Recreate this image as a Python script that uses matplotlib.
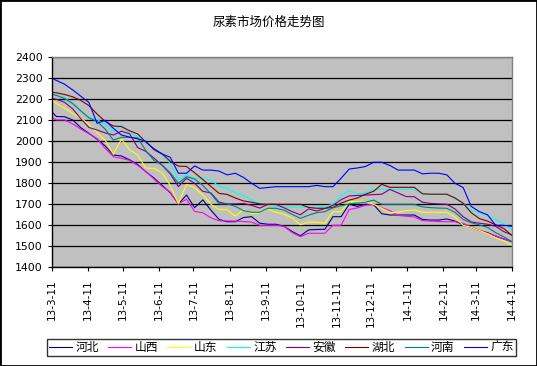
import datetime as dt
import matplotlib
matplotlib.use("Agg")
import matplotlib.pyplot as plt
import matplotlib.dates as mdates
from matplotlib.patches import Rectangle
from matplotlib.ticker import FuncFormatter, MultipleLocator
import pandas as pd

plt.rcParams['font.family'] = ['DejaVu Sans', 'Noto Sans CJK SC']

# first quote on 2013-03-11, then every Friday up to 2014-04-11
dates = [pd.Timestamp('2013-03-11')] + list(pd.date_range('2013-03-15', '2014-04-11', freq='7D'))

hebei = [2141, 2118, 2117, 2102, 2065, 2038, 2010, 1978, 1935, 1930, 1912, 1889, 1855, 1825, 1790, 1755,
         1702, 1744, 1684, 1721, 1672, 1628, 1617, 1617, 1637, 1641, 1610, 1605, 1605, 1595, 1570, 1550,
         1578, 1580, 1581, 1641, 1641, 1700, 1690, 1700, 1698, 1655, 1649, 1649, 1649, 1649, 1628, 1625,
         1625, 1630, 1620, 1603, 1590, 1575, 1565, 1548, 1535, 1522]
shanxi = [2114, 2102, 2102, 2083, 2058, 2036, 2013, 1966, 1927, 1919, 1909, 1885, 1856, 1820, 1785, 1758,
          1702, 1724, 1666, 1660, 1636, 1621, 1621, 1620, 1618, 1615, 1600, 1600, 1600, 1595, 1565, 1546,
          1562, 1562, 1562, 1600, 1600, 1675, 1683, 1695, 1700, 1684, 1670, 1647, 1643, 1640, 1622, 1620,
          1618, 1617, 1617, 1610, 1592, 1576, 1562, 1550, 1535, 1522]
shandong = [2200, 2180, 2158, 2133, 2112, 2080, 2042, 2005, 1938, 2010, 1960, 1935, 1872, 1871, 1850, 1790,
            1702, 1795, 1778, 1745, 1700, 1676, 1674, 1643, 1675, 1655, 1660, 1678, 1662, 1652, 1635, 1602,
            1615, 1615, 1610, 1665, 1665, 1713, 1712, 1712, 1700, 1681, 1660, 1662, 1670, 1673, 1662, 1662,
            1662, 1662, 1640, 1600, 1590, 1575, 1560, 1540, 1525, 1506]
jiangsu = [2224, 2218, 2208, 2180, 2145, 2112, 2104, 2080, 2045, 2078, 2040, 2020, 1995, 1965, 1935, 1895,
           1815, 1840, 1824, 1826, 1815, 1786, 1775, 1755, 1740, 1722, 1705, 1700, 1690, 1686, 1686, 1686,
           1686, 1686, 1690, 1700, 1740, 1765, 1750, 1755, 1771, 1771, 1771, 1771, 1771, 1771, 1750, 1748,
           1748, 1748, 1728, 1705, 1672, 1660, 1645, 1628, 1608, 1578]
anhui = [2205, 2200, 2186, 2155, 2108, 2066, 2054, 2040, 2030, 2048, 2036, 1970, 1952, 1920, 1886, 1845,
         1784, 1824, 1800, 1762, 1754, 1710, 1702, 1702, 1704, 1695, 1682, 1700, 1700, 1683, 1665, 1650,
         1678, 1668, 1680, 1695, 1722, 1740, 1742, 1744, 1746, 1748, 1771, 1754, 1737, 1736, 1710, 1704,
         1702, 1700, 1678, 1641, 1616, 1610, 1605, 1595, 1570, 1554]
hubei = [2233, 2231, 2223, 2212, 2195, 2170, 2130, 2095, 2073, 2070, 2050, 2035, 1996, 1965, 1940, 1905,
         1882, 1880, 1850, 1818, 1785, 1752, 1747, 1730, 1716, 1710, 1702, 1700, 1700, 1700, 1700, 1700,
         1685, 1681, 1681, 1685, 1706, 1720, 1730, 1748, 1762, 1795, 1781, 1781, 1781, 1781, 1750, 1748,
         1748, 1748, 1730, 1705, 1660, 1632, 1620, 1602, 1585, 1551]
henan = [2224, 2219, 2204, 2180, 2145, 2112, 2095, 2058, 2006, 2019, 2019, 2016, 1956, 1909, 1887, 1850,
         1800, 1832, 1820, 1790, 1750, 1702, 1702, 1690, 1670, 1662, 1662, 1681, 1681, 1672, 1652, 1633,
         1648, 1660, 1665, 1683, 1693, 1702, 1706, 1710, 1720, 1700, 1700, 1700, 1700, 1700, 1688, 1684,
         1682, 1681, 1662, 1628, 1612, 1602, 1590, 1565, 1545, 1522]
guangdong = [2300, 2290, 2272, 2245, 2215, 2185, 2086, 2100, 2062, 2030, 2020, 2012, 2000, 1960, 1940, 1924,
             1848, 1848, 1883, 1863, 1863, 1858, 1840, 1848, 1828, 1800, 1776, 1780, 1784, 1784, 1784, 1784,
             1784, 1790, 1784, 1784, 1824, 1868, 1873, 1880, 1900, 1900, 1885, 1863, 1863, 1863, 1845, 1848,
             1848, 1840, 1800, 1780, 1690, 1665, 1650, 1600, 1600, 1595]

names = ['河北', '山西', '山东', '江苏', '安徽', '湖北', '河南', '广东']
colors = ['#000080', '#FF00FF', '#FFFF00', '#00FFFF', '#800080', '#800000', '#008080', '#0000FF']
series = [hebei, shanxi, shandong, jiangsu, anhui, hubei, henan, guangdong]

fig = plt.figure(figsize=(5.37, 3.66), dpi=100)
ax = fig.add_axes([0.0963, 0.2697, 0.857, 0.5737])
ax.set_facecolor('#C0C0C0')

for name, c, vals in zip(names, colors, series):
    ax.plot(dates, vals, color=c, lw=0.8, label=name)

ax.set_xlim(dt.datetime(2013, 3, 11), dt.datetime(2014, 4, 11))
ax.set_ylim(1400, 2400)
ax.yaxis.set_major_locator(MultipleLocator(100))
ax.grid(axis='y', color='black', lw=0.9)
ax.set_axisbelow(True)

ax.xaxis.set_major_locator(mdates.MonthLocator(bymonthday=11))
ax.xaxis.set_major_formatter(FuncFormatter(
    lambda v, p: (lambda d: f"{d.year % 100}-{d.month}-{d.day}")(mdates.num2date(v))))
ax.tick_params(axis='x', rotation=90, labelsize=7.5, length=3, width=0.8, direction='out', pad=6)
ax.tick_params(axis='y', labelsize=7.8, length=3, width=0.8, direction='out')

for s in ['left', 'bottom']:
    ax.spines[s].set_color('black')
    ax.spines[s].set_linewidth(1)
for s in ['top', 'right']:
    ax.spines[s].set_color('#808080')
    ax.spines[s].set_linewidth(1)

fig.text(0.5, 0.94, '尿素市场价格走势图', ha='center', va='center', fontsize=9,
         family=['Noto Sans CJK SC', 'DejaVu Sans'])

leg = fig.legend(loc='center', bbox_to_anchor=(0.524, 0.0505), ncol=8,
                 frameon=True, fancybox=False, edgecolor='black', handlelength=1.95,
                 handletextpad=0.3, columnspacing=0.78, borderpad=0.2, borderaxespad=0,
                 prop={'family': ['Noto Sans CJK SC', 'DejaVu Sans'], 'size': 8.5})
leg.get_frame().set_linewidth(1)

fig.patches.append(Rectangle((0, 0), 1, 1, transform=fig.transFigure, fill=False,
                             edgecolor='black', lw=2))

fig.savefig('out.png', dpi=100)
